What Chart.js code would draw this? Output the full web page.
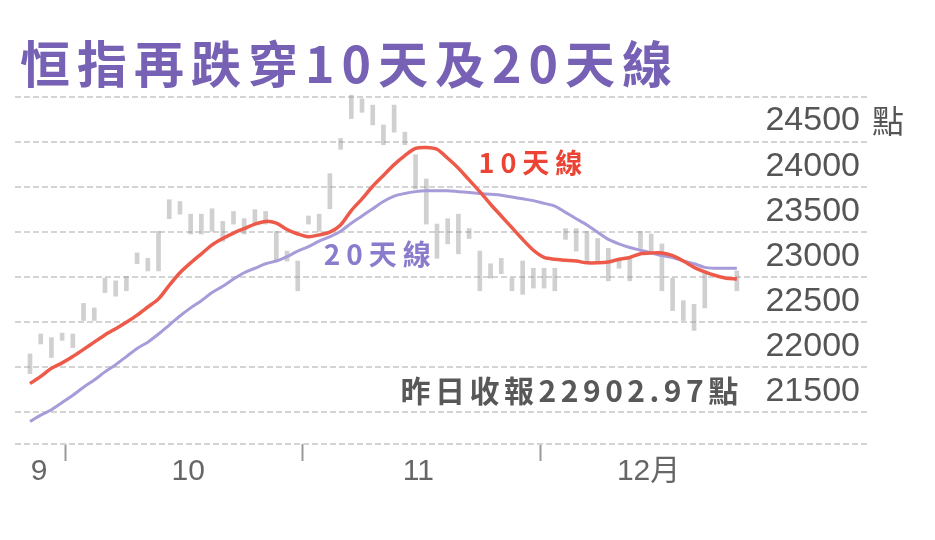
<!DOCTYPE html>
<html>
<head>
<meta charset="utf-8">
<script src="https://cdn.jsdelivr.net/npm/chart.js@4"></script>
<style>
html, body { margin: 0; padding: 0; background: #fff; }
#wrap { width: 935px; height: 540px; }
</style>
</head>
<body>
<div id="wrap"><canvas id="hsi-chart" width="935" height="540"></canvas></div>
<script>
// 恒指 日線 + 10天 / 20天 移動平均
var ma10 = [21820, 21900, 21990, 22050, 22120, 22200, 22280, 22360, 22430, 22500,
            22580, 22670, 22760, 22910, 23050, 23160, 23260, 23360, 23430, 23490,
            23540, 23590, 23620, 23600, 23530, 23480, 23450, 23470, 23500, 23580,
            23740, 23870, 24010, 24130, 24250, 24350, 24430, 24440, 24420, 24320,
            24210, 24080, 23950, 23810, 23680, 23550, 23420, 23300, 23220, 23200,
            23190, 23180, 23160, 23160, 23170, 23200, 23220, 23260, 23270, 23270,
            23240, 23180, 23110, 23060, 23020, 22990, 22980];
var ma20 = [21400, 21470, 21530, 21610, 21690, 21780, 21860, 21950, 22030, 22120,
            22210, 22280, 22370, 22470, 22570, 22660, 22740, 22830, 22900, 22980,
            23050, 23100, 23150, 23180, 23230, 23290, 23340, 23400, 23450, 23510,
            23600, 23680, 23760, 23840, 23900, 23930, 23950, 23960, 23960, 23960,
            23950, 23940, 23930, 23920, 23910, 23890, 23870, 23850, 23820, 23790,
            23720, 23650, 23580, 23500, 23420, 23370, 23330, 23300, 23270, 23240,
            23220, 23180, 23150, 23110, 23100, 23100, 23100];
// 每日 最低 / 最高
var dayLow  = [21930, 22260, 22110, 22300, 22220, 22520, 22520, 22830, 22790, 22850,
               23150, 23070, 23070, 23650, 23700, 23480, 23480, 23510, 23400, 23590,
               23480, 23600, 23590, 23180, 23180, 22850, 23590, 23510, 23760, 24420,
               24760, 24830, 24690, 24470, 24610, 24470, 23980, 23590, 23210, 23370,
               23260, 23430, 22850, 22990, 23040, 22850, 22810, 22880, 22880, 22850,
               23420, 23290, 23180, 23150, 22960, 23100, 22960, 23320, 23290, 22850,
               22630, 22520, 22410, 22660, null, null, 22850];
var dayHigh = [22150, 22370, 22330, 22380, 22370, 22710, 22660, 22990, 22960, 23010,
               23270, 23210, 23510, 23860, 23840, 23700, 23700, 23760, 23620, 23730,
               23650, 23750, 23730, 23510, 23290, 23180, 23680, 23700, 24150, 24540,
               25020, 24980, 24910, 24690, 24910, 24610, 24360, 24090, 23590, 23650,
               23700, 23540, 23290, 23150, 23210, 22990, 23180, 23100, 23100, 23100,
               23540, 23540, 23510, 23430, 23320, 23210, 23210, 23510, 23480, 23370,
               22990, 22740, 22700, 23070, null, null, 23070];

var monthLabels = ['9', '10', '11', '12月'];
var monthLabelPos = [0.84, 14.77, 36.26, 57.76];   // 交易日序號
var monthBounds = [3.27, 25.42, 47.66];

var yTicks = [21150, 21500, 22000, 22500, 23000, 23500, 24000, 24500, 25000];
var yTickLabels = ['', '21500', '22000', '22500', '23000', '23500', '24000', '24500', ''];
var yUnit = '點';

var titleText = '恒指再跌穿10天及20天線';
var notes = [
  { text: '10天線', x: 47.0, y: 24270, color: '#ec4434', font: 'bold 27px "Noto Sans CJK TC"', align: 'center', ls: '6px' },
  { text: '20天線', x: 32.7, y: 23250, color: '#8a7bcc', font: 'bold 28px "Noto Sans CJK TC"', align: 'center', ls: '6px' },
  { text: '昨日收報22902.97點', x: 34.6, y: 21740, color: '#585858', font: 'bold 30px "Noto Sans CJK TC"', align: 'left', ls: '4.5px' }
];

var gridColor = '#d4d4d4';

function pts(arr) {
  return arr.map(function(v, i) { return { x: i, y: v }; });
}

var textPlugin = {
  id: 'textPlugin',
  afterDatasetsDraw: function(chart) {
    var ctx = chart.ctx, xs = chart.scales.x, ys = chart.scales.y;
    ctx.save();
    ctx.textBaseline = 'middle';
    // 標題
    ctx.font = 'bold 50px "Noto Sans CJK TC"';
    ctx.fillStyle = '#7661b5';
    ctx.letterSpacing = '7px';
    ctx.textAlign = 'left';
    ctx.fillText(titleText, 20, 64);
    // 單位
    ctx.letterSpacing = '0px';
    ctx.font = '32px "Noto Sans CJK TC"';
    ctx.fillStyle = '#555';
    ctx.fillText(yUnit, chart.chartArea.right + 5, ys.getPixelForValue(24500) - 21);
    // 註記
    notes.forEach(function(n) {
      ctx.font = n.font;
      ctx.fillStyle = n.color;
      ctx.letterSpacing = n.ls;
      ctx.textAlign = n.align;
      ctx.fillText(n.text, xs.getPixelForValue(n.x), ys.getPixelForValue(n.y));
    });
    ctx.restore();
  }
};

new Chart(document.getElementById('hsi-chart'), {
  type: 'line',
  data: {
    datasets: [{
      type: 'line',
      data: pts(ma10),
      borderColor: '#ee5a4a',
      borderWidth: 3.5,
      pointRadius: 0,
      tension: 0.3,
      order: 1
    }, {
      type: 'line',
      data: pts(ma20),
      borderColor: '#a79bd9',
      borderWidth: 3,
      pointRadius: 0,
      tension: 0.3,
      order: 2
    }, {
      type: 'bar',
      data: dayLow.map(function(lo, i) {
        return { x: i, y: lo === null ? null : [lo, dayHigh[i]] };
      }),
      backgroundColor: 'rgba(150,150,150,0.45)',
      barThickness: 4,
      grouped: false,
      clip: false,
      order: 3
    }]
  },
  options: {
    responsive: false,
    animation: false,
    layout: { padding: { left: 15, top: 97, right: 68, bottom: 57 } },
    plugins: { legend: { display: false }, tooltip: { enabled: false }, title: { display: false } },
    scales: {
      x: {
        type: 'linear',
        min: -1.4,
        max: 78.15,
        offset: false,
        bounds: 'data',
        afterBuildTicks: function(axis) {
          axis.ticks = monthBounds.concat(monthLabelPos).sort(function(a, b) { return a - b; })
            .map(function(v) { return { value: v }; });
        },
        ticks: {
          autoSkip: false,
          maxRotation: 0,
          padding: -7,
          color: '#666',
          font: { family: 'Liberation Sans, "Noto Sans CJK TC"', size: 30 },
          callback: function(value) {
            var k = monthLabelPos.indexOf(value);
            return k >= 0 ? monthLabels[k] : '';
          }
        },
        grid: {
          offset: false,
          drawOnChartArea: false,
          drawTicks: true,
          tickLength: 17,
          tickWidth: 2,
          tickColor: function(c) {
            return c.tick && monthBounds.indexOf(c.tick.value) >= 0 ? '#9a9a9a' : 'rgba(0,0,0,0)';
          }
        },
        border: { display: false }
      },
      y: {
        type: 'linear',
        position: 'right',
        min: 21150,
        max: 25000,
        bounds: 'data',
        afterBuildTicks: function(axis) {
          axis.ticks = yTicks.map(function(v) { return { value: v }; });
        },
        ticks: {
          autoSkip: false,
          mirror: true,
          padding: -7,
          labelOffset: -21,
          color: '#555',
          font: { family: 'Liberation Sans, "Noto Sans CJK TC"', size: 34 },
          callback: function(value) {
            var k = yTicks.indexOf(value);
            return k >= 0 ? yTickLabels[k] : '';
          }
        },
        grid: {
          color: gridColor,
          lineWidth: 2,
          drawTicks: false,
          tickLength: 0
        },
        border: { display: false, dash: [6, 3] }
      }
    }
  },
  plugins: [textPlugin]
});
</script>
</body>
</html>
